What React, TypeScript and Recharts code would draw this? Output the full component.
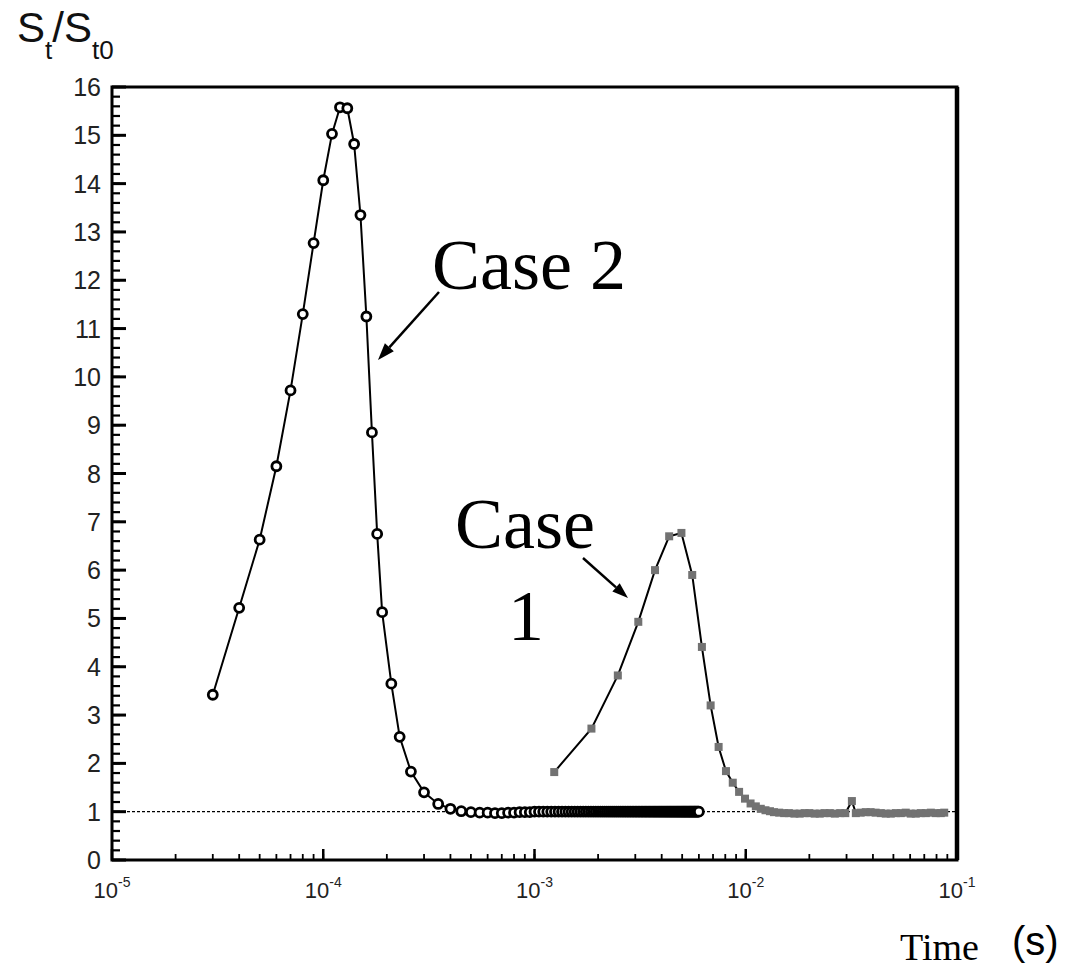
import React from "react";
import { LineChart, Line, XAxis, YAxis, ReferenceLine, ReferenceArea } from "recharts";

// Case 2: open circles (time in ms)
const caseTwoTimesMs = [
  0.03, 0.04, 0.05, 0.06, 0.07, 0.08, 0.09, 0.1, 0.11, 0.12,
  0.13, 0.14, 0.15, 0.16, 0.17, 0.18, 0.19, 0.21, 0.23, 0.26,
  0.3, 0.35, 0.4,
];
const caseTwoValues = [
  3.42, 5.22, 6.63, 8.15, 9.72, 11.3, 12.77, 14.07, 15.03, 15.58,
  15.56, 14.82, 13.35, 11.25, 8.85, 6.75, 5.13, 3.65, 2.55, 1.83,
  1.4, 1.16, 1.06,
];

// Case 2 tail sitting on the steady value
const caseTwoTailMs = [
  0.45, 0.5, 0.55, 0.6, 0.65, 0.7, 0.75, 0.8, 0.85, 0.9, 0.95,
  1.0, 1.05, 1.1, 1.15, 1.2, 1.25, 1.3, 1.35, 1.4, 1.45,
  1.5, 1.55, 1.6, 1.65, 1.7, 1.75, 1.8, 1.85, 1.9, 1.95,
  2.0, 2.05, 2.1, 2.15, 2.2, 2.25, 2.3, 2.35, 2.4, 2.45,
  2.5, 2.55, 2.6, 2.65, 2.7, 2.75, 2.8, 2.85, 2.9, 2.95,
  3.0, 3.05, 3.1, 3.15, 3.2, 3.25, 3.3, 3.35, 3.4, 3.45,
  3.5, 3.55, 3.6, 3.65, 3.7, 3.75, 3.8, 3.85, 3.9, 3.95,
  4.0, 4.05, 4.1, 4.15, 4.2, 4.25, 4.3, 4.35, 4.4, 4.45,
  4.5, 4.55, 4.6, 4.65, 4.7, 4.75, 4.8, 4.85, 4.9, 4.95,
  5.0, 5.05, 5.1, 5.15, 5.2, 5.25, 5.3, 5.35, 5.4, 5.45,
  5.5, 5.55, 5.6, 5.65, 5.7, 5.75, 5.8, 5.85, 5.9, 5.95,
  6.0,
];
const caseTwoTailValues = [
  1.01, 0.99, 0.98, 0.98, 0.97, 0.97, 0.98, 0.98, 0.99, 0.99, 0.99,
  1, 1, 1, 1, 1, 1, 1, 1, 1, 1,
  1, 1, 1, 1, 1, 1, 1, 1, 1, 1,
  1, 1, 1, 1, 1, 1, 1, 1, 1, 1,
  1, 1, 1, 1, 1, 1, 1, 1, 1, 1,
  1, 1, 1, 1, 1, 1, 1, 1, 1, 1,
  1, 1, 1, 1, 1, 1, 1, 1, 1, 1,
  1, 1, 1, 1, 1, 1, 1, 1, 1, 1,
  1, 1, 1, 1, 1, 1, 1, 1, 1, 1,
  1, 1, 1, 1, 1, 1, 1, 1, 1, 1,
  1, 1, 1, 1, 1, 1, 1, 1, 1, 1,
  1,
];

// Case 1: grey squares (time in ms)
const caseOneTimesMs = [
  1.24, 1.86, 2.48, 3.1, 3.72, 4.34, 4.96, 5.58, 6.2, 6.82,
  7.44, 8.06, 8.68, 9.3, 9.92, 10.54, 11.16, 11.78, 12.4, 13.02,
  13.6, 14.4, 15.2, 16.0, 17.0, 18.0, 19.0, 20.0, 21.2, 22.4,
  23.6, 25.0, 26.4, 28.0, 29.6, 31.8, 33.2, 35.0, 37.0, 39.0,
  41.2, 43.6, 46.0, 48.6, 51.4, 54.2, 57.2, 60.4, 63.8, 67.4,
  71.2, 75.2, 79.4, 83.8, 87.0,
];
const caseOneValues = [
  1.82, 2.72, 3.82, 4.93, 6.0, 6.7, 6.77, 5.9, 4.41, 3.2,
  2.34, 1.84, 1.6, 1.41, 1.27, 1.17, 1.11, 1.06, 1.03, 1.01,
  0.99, 0.98, 0.97, 0.97, 0.96, 0.96, 0.97, 0.97, 0.96, 0.96,
  0.97, 0.97, 0.96, 0.97, 0.97, 1.22, 0.97, 0.98, 0.99, 0.99,
  0.98, 0.97, 0.96, 0.96, 0.97, 0.97, 0.98, 0.96, 0.96, 0.97,
  0.97, 0.98, 0.97, 0.97, 0.98,
];

const xDecades = [1e-5, 1e-4, 1e-3, 1e-2, 1e-1];
const xDecadeLabels = ["-5", "-4", "-3", "-2", "-1"];
const xMinorSteps = [2, 3, 4, 5, 6, 7, 8, 9];
const yMajorTicks = [0, 1, 2, 3, 4, 5, 6, 7, 8, 9, 10, 11, 12, 13, 14, 15, 16];
const yMinorSteps = [0.2, 0.4, 0.6, 0.8];

const X_MIN = 1e-5;
const X_MAX = 1e-1;
const Y_MAX = 16;
const PLOT_W = 845;
const PLOT_H = 773;
const X_MINOR_LEN = 6;
const Y_MINOR_LEN = 8;

const toPoints = (times: number[], values: number[]) =>
  times.map((ms, i) => ({ t: ms / 1000, v: values[i] }));

const caseTwo = toPoints(caseTwoTimesMs.concat(caseTwoTailMs), caseTwoValues.concat(caseTwoTailValues));
const caseOne = toPoints(caseOneTimesMs, caseOneValues);

// all ticks drawn inward by the axes (minor length); majors get lengthened by segments
const pxToYUnits = (px: number) => (px * Y_MAX) / PLOT_H;
const pxToXFactor = (px: number) => Math.pow(10, (px * Math.log10(X_MAX / X_MIN)) / PLOT_W);
const xTicks = [
  ...xDecades,
  ...xDecades.slice(0, -1).flatMap((d) => xMinorSteps.map((k) => d * k)),
].sort((a, b) => a - b);
const yTicks = [
  ...yMajorTicks,
  ...yMajorTicks.slice(0, -1).flatMap((m) => yMinorSteps.map((f) => m + f)),
].sort((a, b) => a - b);

const SANS = "'Liberation Sans', Arial, sans-serif";
const SERIF = "'Liberation Serif', 'Times New Roman', serif";

function XTick(props: any) {
  const { x, y, payload } = props;
  const idx = xDecades.findIndex((d) => Math.abs(d - payload.value) / d < 1e-6);
  if (idx < 0) return <g />;
  return (
    <text x={x} y={y + X_MINOR_LEN + 38} textAnchor="middle" fontFamily={SANS} fontSize={22} fill="#222">
      10
      <tspan dy={-11} fontSize={14}>
        {xDecadeLabels[idx]}
      </tspan>
    </text>
  );
}

function YTick(props: any) {
  const { x, y, payload } = props;
  const v = payload.value;
  if (Math.abs(v - Math.round(v)) > 1e-6) return <g />;
  return (
    <text x={x - Y_MINOR_LEN - 11} y={y} dy="0.36em" textAnchor="end" fontFamily={SANS} fontSize={25} fill="#222">
      {Math.round(v)}
    </text>
  );
}

function SquareDot(props: any) {
  const { cx, cy, index } = props;
  if (cx == null || cy == null) return <g key={`sq-${index}`} />;
  return <rect key={`sq-${index}`} x={cx - 4} y={cy - 4} width={8} height={8} fill="#727272" />;
}

function Arrow({ x1, y1, x2, y2, head = 17, half = 6 }: any) {
  const len = Math.hypot(x2 - x1, y2 - y1);
  const ux = (x2 - x1) / len;
  const uy = (y2 - y1) / len;
  const bx = x2 - ux * head;
  const by = y2 - uy * head;
  const pts = `${x2},${y2} ${bx - uy * half},${by + ux * half} ${bx + uy * half},${by - ux * half}`;
  return (
    <g>
      <line x1={x1} y1={y1} x2={bx} y2={by} stroke="#000" strokeWidth={2.5} />
      <polygon points={pts} fill="#000" />
    </g>
  );
}

export default function App() {
  return (
    <div style={{ position: "absolute", left: 0, top: 0, width: 1071, height: 970, background: "#fff" }}>
      <LineChart width={1071} height={970} margin={{ top: 87, right: 114, bottom: 0, left: 0 }}>
        <XAxis
          dataKey="t"
          type="number"
          scale="log"
          domain={[X_MIN, X_MAX]}
          allowDataOverflow
          ticks={xTicks}
          interval={0}
          height={110}
          tickLine={{ stroke: "#000", strokeWidth: 1.8 }}
          axisLine={false}
          tickSize={-X_MINOR_LEN}
          tickMargin={0}
          tick={(p: any) => <XTick {...p} />}
        />
        <YAxis
          type="number"
          domain={[0, Y_MAX]}
          allowDataOverflow
          ticks={yTicks}
          interval={0}
          width={112}
          tickLine={{ stroke: "#000", strokeWidth: 2.2 }}
          axisLine={false}
          tickSize={-Y_MINOR_LEN}
          tickMargin={0}
          tick={(p: any) => <YTick {...p} />}
        />
        <ReferenceArea x1={X_MIN} x2={X_MAX} y1={0} y2={Y_MAX} fill="none" stroke="#000" strokeWidth={3} />
        <ReferenceLine x={X_MAX} stroke="#000" strokeWidth={4.5} />
        {xDecades.map((t) => (
          <ReferenceLine
            key={`xM${t}`}
            segment={[{ x: t, y: 0 }, { x: t, y: pxToYUnits(11) }]}
            stroke="#000"
            strokeWidth={2.5}
            ifOverflow="visible"
          />
        ))}
        {yMajorTicks.map((v) => (
          <ReferenceLine
            key={`yM${v}`}
            segment={[{ x: X_MIN, y: v }, { x: X_MIN * pxToXFactor(14), y: v }]}
            stroke="#000"
            strokeWidth={3}
            ifOverflow="visible"
          />
        ))}
        <ReferenceLine y={1} stroke="#000" strokeWidth={1.2} strokeDasharray="3 2" />
        <Line
          data={caseOne}
          dataKey="v"
          type="linear"
          stroke="#000"
          strokeWidth={2}
          dot={(p: any) => <SquareDot {...p} />}
          activeDot={false}
          isAnimationActive={false}
        />
        <Line
          data={caseTwo}
          dataKey="v"
          type="linear"
          stroke="#000"
          strokeWidth={2}
          dot={{ r: 4.5, fill: "#fff", stroke: "#000", strokeWidth: 2.8 }}
          activeDot={false}
          isAnimationActive={false}
        />
      </LineChart>
      <svg width={1071} height={970} style={{ position: "absolute", left: 0, top: 0, pointerEvents: "none" }}>
        <text x={17} y={42} fontFamily={SANS} fontSize={42} fill="#111">
          S
          <tspan fontSize={26} dy={17}>t</tspan>
          <tspan fontSize={42} dy={-17}>/S</tspan>
          <tspan fontSize={26} dy={17}>t0</tspan>
        </text>
        <text x={432} y={289} fontFamily={SERIF} fontSize={72} fill="#000">Case 2</text>
        <text x={455} y={548} fontFamily={SERIF} fontSize={72} fill="#000">Case</text>
        <text x={526} y={640} textAnchor="middle" fontFamily={SERIF} fontSize={72} fill="#000">1</text>
        <Arrow x1={439} y1={292} x2={378} y2={360} />
        <Arrow x1={583} y1={558} x2={628} y2={598} head={16} half={5.5} />
        <text x={900} y={960} fontFamily={SERIF} fontSize={38} fill="#000">Time</text>
        <text x={1012} y={955} fontFamily={SANS} fontSize={40} fill="#000">(s)</text>
      </svg>
    </div>
  );
}
